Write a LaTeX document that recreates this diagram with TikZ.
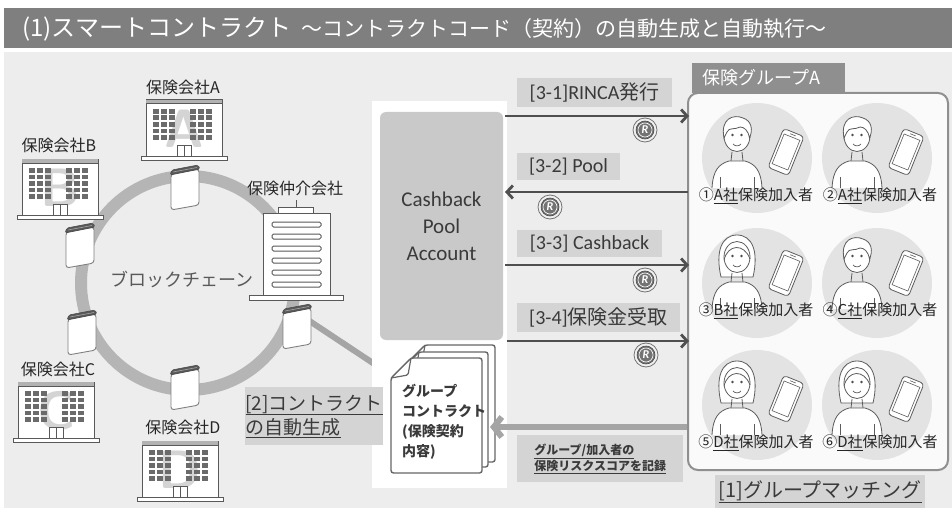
\documentclass[tikz,border=0pt]{standalone}
\usepackage{fontspec}
\setmainfont{Carlito}
\newfontfamily\jp{Noto Sans CJK JP}
\usetikzlibrary{arrows.meta}

\definecolor{bg}{HTML}{EDEDED}
\definecolor{titlebar}{HTML}{7F7F7F}
\definecolor{tagfill}{HTML}{D4D4D4}
\definecolor{poolfill}{HTML}{C9C9C9}
\definecolor{ink}{HTML}{3A3A3A}
\definecolor{ringgray}{HTML}{B5B5B5}
\definecolor{palegray}{HTML}{A5A5A5}
\definecolor{darkline}{HTML}{4F4F4F}
\definecolor{memberdisk}{HTML}{E3E3E3}
\definecolor{groupedge}{HTML}{8F8F8F}
\definecolor{groupfill}{HTML}{FAFAFA}
\definecolor{iconline}{HTML}{5C5C5C}

\newcommand\fs[1]{\fontsize{#1}{#1}\selectfont}

\tikzset{
  tag/.style={fill=tagfill, inner sep=0pt, text=ink},
  darkflow/.style={draw=darkline, line width=2.8, -{Straight Barb[length=6pt,width=13pt]}},
  paleflow/.style={draw=palegray, line width=6, -{Straight Barb[length=8pt,width=20pt]}},
  memberlabel/.style={font=\jp\fs{15}, text=black!85, inner sep=0pt},
  companylabel/.style={font=\jp\fs{16}, text=black!85, inner sep=0pt},
  icon/.style={draw=iconline, line width=0.8},
  % office building with a big letter on its front
  pics/office/.style={code={
    \fill[white] (0,0) rectangle (76,56);
    \node[text=black!17, font=\sffamily\bfseries\fs{54}, inner sep=0] at (38,29) {#1};
    \foreach \wx in {7,15,23,44,52,60}
      \foreach \wy in {9,15.5,22,28.5,35}
        \fill[black!58] (\wx,\wy) rectangle ++(6,4.6);
    \draw[black!65, line width=1] (0,0) rectangle (76,56);
    \fill[black!30] (0,0) rectangle (76,4);
    \draw[black!65, line width=1] (0,4) -- (76,4);
    \filldraw[fill=white, draw=black!65, line width=0.9] (31,45) rectangle (45,56);
    \draw[black!65, line width=0.9] (38,45) -- (38,56);
    \filldraw[fill=white, draw=black!65, line width=1] (-5,56) rectangle (81,60);
  }},
  % ledger book standing on the chain
  pics/ledger/.style={code={
    \filldraw[fill=white, draw=black!50, line width=0.9, rounded corners=3]
      (-14,-14) -- (14,-19) -- (14,17) -- (-14,22) -- cycle;
    \filldraw[fill=black!65, draw=black!70, line width=0.6, rounded corners=1.5]
      (-15,-13) -- (-13,-18) -- (13,-23) -- (15,-19) -- cycle;
    \draw[black!35, line width=0.6] (-12,-16) -- (12,-20.5);
  }},
  % token coin
  pics/coin/.style={code={
    \filldraw[fill=black!6, draw=black!55, line width=0.8] (0,0) circle (12);
    \filldraw[fill=black!55, draw=black!70, line width=0.6] (0,0) circle (9);
    \draw[white, line width=0.6] (0,0) circle (7);
    \node[text=white, font=\rmfamily\bfseries\itshape\fs{12}, inner sep=0] at (0,0) {R};
  }},
  pics/phone/.style={code={
    \begin{scope}[shift={(29,-6)}, rotate=-22]
      \filldraw[fill=white, icon, rounded corners=3.5] (-11,-21) rectangle (11,21);
      \draw[icon, line width=0.6] (-8.5,-16) rectangle (8.5,16);
      \draw[icon, line width=0.6] (-3,-18.5) -- (3,-18.5);
    \end{scope}
  }},
  pics/torso/.style={code={
    \filldraw[fill=white, icon] (-45,30) .. controls (-44,12) and (-38,6) .. (-28,3)
      -- (-12,3) .. controls (-2,6) and (4,12) .. (5,30);
    \draw[icon] (-25,-6) -- (-26,3) (-15,-6) -- (-14,3);
    \draw[icon] (-37,30) -- (-37,19) (-3,30) -- (-3,19);
  }},
  pics/face/.style={code={
    \filldraw[fill=white, icon] (-20,-22) ellipse [x radius=13, y radius=15.5];
    \fill[black!70] (-24.5,-23) circle (1.3) (-15.5,-23) circle (1.3);
    \draw[icon, line width=0.7] (-24,-14) .. controls (-22,-11.5) and (-18,-11.5) .. (-16,-14);
  }},
  pics/shorthair/.style={code={
    \filldraw[fill=white, icon] (-33,-20) .. controls (-37,-40) and (-23,-44) .. (-14,-40)
      .. controls (-5,-37) and (-4,-28) .. (-7.5,-20)
      .. controls (-9,-28) and (-13,-31) .. (-17,-31)
      .. controls (-22,-28) and (-28,-31) .. (-30,-26) -- cycle;
  }},
  pics/longhair/.style={code={
    \filldraw[fill=white, icon] (-36,-2) .. controls (-42,-28) and (-35,-44) .. (-20,-44)
      .. controls (-5,-44) and (2,-28) .. (-4,-2) -- cycle;
  }},
  pics/fringe/.style={code={
    \draw[icon] (-33,-19) .. controls (-29,-35) and (-13,-36) .. (-7,-20);
  }},
  pics/man/.style={code={
    \pic {torso}; \pic {face}; \pic {shorthair}; \pic {phone};
  }},
  pics/woman/.style={code={
    \pic {longhair}; \pic {torso}; \pic {face}; \pic {fringe}; \pic {phone};
  }},
}

% one sheet of the contract stack, with a folded corner
\newcommand\docsheet[4]{%
  \filldraw[draw=black!60, fill=white, line width=1.4, rounded corners=2.5]
    ({#1+20},#2) -- (#3,#2) -- (#3,#4) -- (#1,#4) -- (#1,{#2+20}) -- cycle;
  \draw[black!60, line width=1.2, rounded corners=1.5]
    ({#1+20},#2) -- ({#1+17},{#2+17}) -- (#1,{#2+20});
}

\begin{document}
\begin{tikzpicture}[x=1pt, y=-1pt, font=\jp]
\useasboundingbox (0,0) rectangle (952,508);
\fill[white] (0,0) rectangle (952,508);
\fill[bg] (4,52) rectangle (952,508);

% title bar
\fill[titlebar] (4,8) rectangle (952,48);
\node[anchor=base west, text=white, inner sep=0] (title) at (22,37)
  {\fs{24}(1)スマートコントラクト\hspace{10pt}\fs{21}～コントラクトコード（契約）の自動生成と自動執行～};

% blockchain ring
\coordinate (hub) at (188,283);
\draw[ringgray, line width=12] (hub) circle (107);
\node[text=black!65, font=\jp\fs{18}] (chainlabel) at (182,279) {ブロックチェーン};

% contract generation flow from the broker's ledger
\coordinate (ledgerE) at (302,316);
\coordinate (docfold) at (394,377);
\draw[paleflow] (ledgerE) -- (docfold);

% ledgers on the ring
\coordinate (ledgerN) at (185,188);
\coordinate (ledgerNW) at (80,246);
\coordinate (ledgerSW) at (82,333);
\coordinate (ledgerS) at (185,388);
\coordinate (ledgerB) at (297,327);
\pic at (ledgerN) {ledger};
\pic at (ledgerNW) {ledger};
\pic at (ledgerSW) {ledger};
\pic at (ledgerS) {ledger};
\pic at (ledgerB) {ledger};

% insurance companies
\pic at (146,100) {office=A};
\pic at (22,159) {office=B};
\pic at (18,382) {office=C};
\pic at (142,441) {office=D};
\node[companylabel] (coA) at (183,87) {保険会社A};
\node[companylabel] (coB) at (59,145) {保険会社B};
\node[companylabel] (coC) at (58,369) {保険会社C};
\node[companylabel] (coD) at (183,427) {保険会社D};

% broker tower
\draw[black!65, line width=1, fill=white] (263,213) rectangle (330,295);
\draw[black!65, line width=1, fill=white] (278,207) rectangle (313,213);
\draw[black!65, line width=1] (296,200) -- (296,207);
\foreach \k in {0,...,5}
  \draw[black!65, line width=1, rounded corners=1.5] (272,{222+\k*12}) rectangle (321,{227+\k*12});
\draw[black!65, line width=1, fill=white] (249,295) rectangle (343,300);
\node[companylabel] (broker) at (295,188) {保険仲介会社};

% pool account panel
\fill[white] (372,101) rectangle (507,488);
\node[fill=poolfill, rounded corners=6, minimum width=123, minimum height=228,
      align=center, text=ink, font=\rmfamily\fontsize{21}{27}\selectfont] (pool) at (441.5,226)
  {Cashback\\Pool\\Account};

% contract documents
\docsheet{405}{345}{495}{462}
\docsheet{399}{352}{488}{467}
\docsheet{391}{358}{482}{473}
\node[anchor=north west, align=left, text=ink, inner sep=0,
      font=\jp\bfseries\fontsize{14}{20}\selectfont] (doctext) at (402,384)
  {グループ\\コントラクト\\(保険契約\\内容)};

\node[tag, anchor=north west, minimum width=138, minimum height=58, align=left,
      font=\jp\fontsize{19}{24}\selectfont] (genlabel) at (245,387)
  {\underline{[2]コントラクト}\\\underline{の自動生成}};

% group of members
\draw[groupedge, line width=2, fill=groupfill, rounded corners=10] (688,93) rectangle (948,470);
\fill[groupedge] (692,63) rectangle (845,93);
\node[anchor=west, text=white, font=\jp\fs{18}, inner sep=0] (grouptitle) at (702,78) {保険グループA};

\foreach \cx/\cy/\n in {757/158/1, 877/158/2, 757/283/3, 877/283/4, 757/405/5, 877/405/6}
  \node[circle, fill=memberdisk, minimum size=110, inner sep=0] (disk\n) at (\cx,\cy) {};

\pic at (757,158) {man};
\pic at (877,158) {man};
\pic at (757,279) {woman};
\pic at (877,279) {man};
\pic at (757,405) {woman};
\pic at (877,405) {woman};

\node[memberlabel] (m1) at (756,196) {①\underline{A社}保険加入者};
\node[memberlabel] (m2) at (880,196) {②\underline{A社}保険加入者};
\node[memberlabel] (m3) at (756,311) {③\underline{B社}保険加入者};
\node[memberlabel] (m4) at (880,311) {④\underline{C社}保険加入者};
\node[memberlabel] (m5) at (756,443) {⑤\underline{D社}保険加入者};
\node[memberlabel] (m6) at (880,443) {⑥\underline{D社}保険加入者};

\node[tag, anchor=north west, minimum width=210, minimum height=33, font=\jp\fs{20}] (matchlabel)
  at (715,475) {\underline{[1]グループマッチング}};

% token flows between pool and group
\node[tag, minimum width=155, minimum height=29, font=\rmfamily\fs{20}] (t31) at (594.5,92.5) {[3-1]RINCA{\jp 発行}};
\node[tag, minimum width=103, minimum height=27, font=\rmfamily\fs{20}] (t32) at (568.5,166.5) {[3-2] Pool};
\node[tag, minimum width=145, minimum height=27, font=\rmfamily\fs{20}] (t33) at (589.5,243.5) {[3-3] Cashback};
\node[tag, minimum width=163, minimum height=29, font=\rmfamily\fs{20}] (t34) at (598.5,317.5) {[3-4]{\jp 保険金受取}};

\coordinate (p1) at (505,116); \coordinate (g1) at (689,116);
\coordinate (p2) at (505,192); \coordinate (g2) at (688,192);
\coordinate (p3) at (505,265); \coordinate (g3) at (689,265);
\coordinate (p4) at (507,341); \coordinate (g4) at (689,341);
\draw[darkflow] (p1) -- (g1);
\draw[darkflow] (g2) -- (p2);
\draw[darkflow] (p3) -- (g3);
\draw[darkflow] (p4) -- (g4);

\pic at (645,130) {coin};
\pic at (550,207) {coin};
\pic at (645,280) {coin};
\pic at (646,355) {coin};

% risk score recorded back into the contract
\coordinate (g5) at (687,427);
\coordinate (docright) at (490,427);
\draw[paleflow] (g5) -- (docright);
\node[tag, anchor=north west, minimum width=166, minimum height=47, align=left,
      font=\jp\bfseries\fontsize{12}{16}\selectfont] (risklabel) at (517,435)
  {\underline{グループ/加入者の}\\\underline{保険リスクスコアを記録}};
\end{tikzpicture}
\end{document}
